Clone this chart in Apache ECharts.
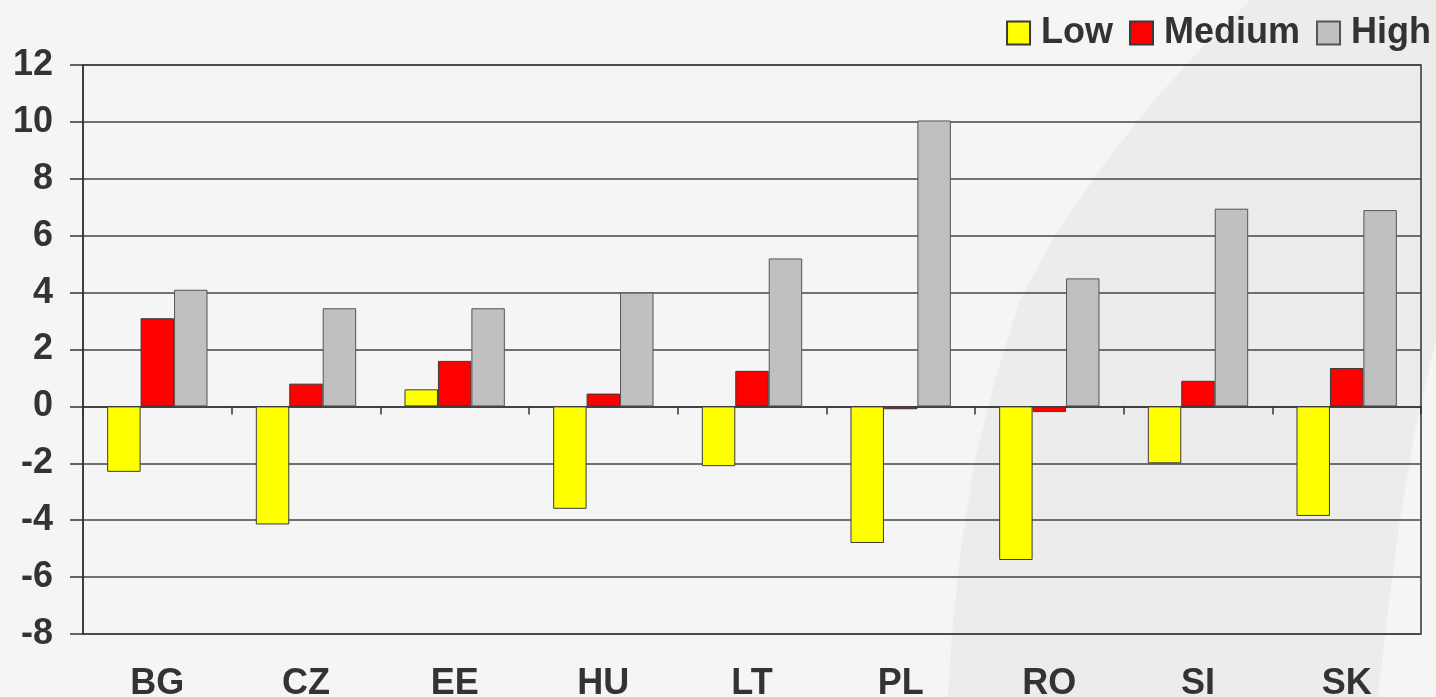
<!DOCTYPE html>
<html>
<head>
<meta charset="utf-8">
<script src="https://cdn.jsdelivr.net/npm/echarts@6/dist/echarts.min.js"></script>
<style>
  html, body { margin: 0; padding: 0; background: #f5f5f5; }
  #chart { width: 1436px; height: 697px; }
</style>
</head>
<body>
<div id="chart"></div>
<script>
// Country codes along the category axis
const countries = ['BG', 'CZ', 'EE', 'HU', 'LT', 'PL', 'RO', 'SI', 'SK'];

// Values per skill level
const lowValues    = [-2.3, -4.15, 0.6, -3.6, -2.1, -4.8, -5.4, -2.0, -3.85];
const mediumValues = [3.1, 0.8, 1.6, 0.45, 1.25, -0.1, -0.2, 0.9, 1.35];
const highValues   = [4.1, 3.45, 3.45, 4.0, 5.2, 10.05, 4.5, 6.95, 6.9];

const seriesNames = ['Low', 'Medium', 'High'];

const textColor = '#333';
const fontFamily = '"Liberation Sans", Arial, sans-serif';

const chart = echarts.init(document.getElementById('chart'));

function barSeries(name, data, color, border) {
  return {
    name: name,
    type: 'bar',
    xAxisIndex: 0,
    data: data,
    barGap: '0%',
    barCategoryGap: '32.5%',
    itemStyle: { color: color, borderColor: border, borderWidth: 1 },
    emphasis: { disabled: true }
  };
}

chart.setOption({
  backgroundColor: '#f5f5f5',
  animation: false,
  graphic: [{
    // soft curved band in the background
    type: 'polygon',
    z: -10,
    silent: true,
    shape: {
      points: [
        [1250, 0], [1200, 50], [1150, 105], [1100, 170], [1055, 235], [1020, 300],
        [995, 380], [975, 460], [962, 540], [953, 620], [948, 697],
        [1378, 697], [1388, 610], [1400, 520], [1415, 430], [1436, 340], [1436, 0]
      ]
    },
    style: { fill: '#ececec' }
  }],
  legend: {
    right: 0,
    top: 10,
    itemWidth: 23,
    itemHeight: 23,
    itemGap: 16,
    icon: 'rect',
    textStyle: { color: textColor, fontSize: 36, fontWeight: 'bold', fontFamily: fontFamily, padding: [0, 0, 0, 6] },
    data: seriesNames
  },
  grid: {
    left: 83,
    right: 15,
    top: 65,
    bottom: 63,
    outerBoundsMode: 'none',
    containLabel: false,
    show: true,
    borderColor: '#333',
    borderWidth: 1.5,
    backgroundColor: 'transparent'
  },
  xAxis: [{
    type: 'category',
    data: countries,
    position: 'bottom',
    axisLine: { show: false, onZero: false },
    axisTick: { show: false },
    axisLabel: {
      color: textColor,
      fontSize: 36,
      fontWeight: 'bold',
      fontFamily: fontFamily,
      margin: 32
    },
    splitLine: { show: false }
  }, {
    type: 'category',
    data: countries,
    position: 'top',
    axisLine: { show: true, onZero: true, lineStyle: { color: '#333', width: 1.5 } },
    axisTick: { show: true, inside: true, length: 8, lineStyle: { color: '#333', width: 1.5 } },
    axisLabel: { show: false },
    splitLine: { show: false }
  }],
  yAxis: {
    type: 'value',
    min: -8,
    max: 12,
    interval: 2,
    axisLine: { show: true, lineStyle: { color: '#333', width: 1.5 } },
    axisTick: { show: true, length: 13, lineStyle: { color: '#333', width: 1.5 } },
    axisLabel: {
      color: textColor,
      fontSize: 36,
      fontWeight: 'bold',
      fontFamily: fontFamily,
      margin: 30
    },
    splitLine: { show: true, lineStyle: { color: '#444', width: 1.5 } }
  },
  series: [
    barSeries('Low', lowValues, '#ffff00', '#3a3a3a'),
    barSeries('Medium', mediumValues, '#ff0000', '#3a3a3a'),
    barSeries('High', highValues, '#c0c0c0', '#555')
  ]
});
</script>
</body>
</html>
